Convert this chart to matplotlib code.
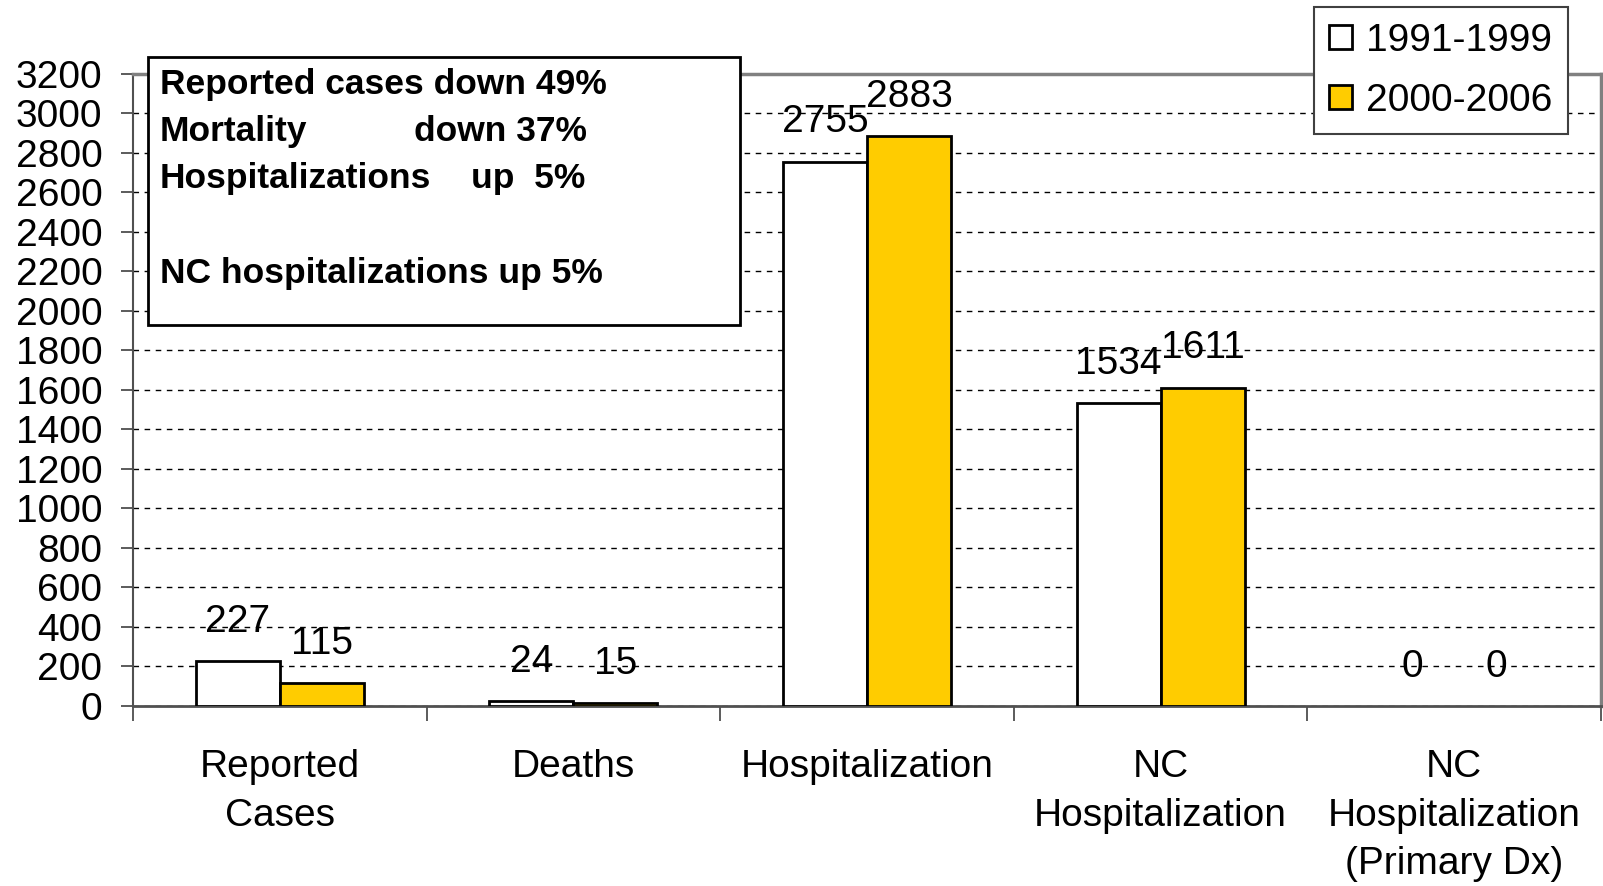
import matplotlib
matplotlib.use("Agg")
import matplotlib.pyplot as plt
from matplotlib.patches import Rectangle, Patch
import numpy as np

plt.rcParams['font.family'] = ['Liberation Sans', 'DejaVu Sans']

categories = ["Reported\nCases", "Deaths", "Hospitalization",
              "NC\nHospitalization", "NC\nHospitalization\n(Primary Dx)"]
series = ["1991-1999", "2000-2006"]
vals_early = [227, 24, 2755, 1534, 0]
vals_late = [115, 15, 2883, 1611, 0]
yticks = list(range(0, 3201, 200))

W, H = 1603, 886


def fx(px):
    return px / W


def fy(py):
    return 1 - py / H


fig = plt.figure(figsize=(W / 100, H / 100), dpi=100)
ax = fig.add_axes([fx(133), fy(706), fx(1601) - fx(133), fy(73.6) - fy(706)])

x = np.arange(len(categories))
bw = 0.286
# zero-height bars are not drawn in the original
ax.bar(x - bw / 2, vals_early, bw, color="white", edgecolor="black",
       lw=[2 if v else 0 for v in vals_early], zorder=3)
ax.bar(x + bw / 2, vals_late, bw, color="#FFCC00", edgecolor="black",
       lw=[2 if v else 0 for v in vals_late], zorder=3)

for xs, vals in [(x - bw / 2, vals_early), (x + bw / 2, vals_late)]:
    for xi, v in zip(xs, vals):
        ax.annotate(str(v), (xi, v), xytext=(0, 21), textcoords="offset points",
                    ha="center", va="baseline", fontsize=28, zorder=4)

ax.set_xlim(-0.5, len(categories) - 0.5)
ax.set_ylim(0, 3200)
ax.set_yticks(yticks)
ax.set_yticklabels([str(t) for t in yticks], fontsize=28)
ax.tick_params(axis="y", direction="out", length=9, width=1.2, pad=13, color="#404040")

ax.set_xticks(x)
ax.set_xticklabels(categories, fontsize=28, linespacing=1.45)
ax.set_xticks(np.arange(-0.5, len(categories)), minor=True)
ax.tick_params(axis="x", which="major", length=0, pad=31)
ax.tick_params(axis="x", which="minor", length=11, width=1.2, color="#404040")

ax.yaxis.grid(True, linestyle=(0, (4, 4)), color="black", lw=1)
ax.set_axisbelow(True)

ax.spines["top"].set_color("#808080")
ax.spines["top"].set_linewidth(2.5)
ax.spines["right"].set_color("#808080")
ax.spines["right"].set_linewidth(2.5)
ax.spines["left"].set_color("#505050")
ax.spines["left"].set_linewidth(1.5)
ax.spines["bottom"].set_color("#505050")
ax.spines["bottom"].set_linewidth(2)

# summary box
fig.add_artist(Rectangle((fx(148), fy(325)), fx(740) - fx(148), fy(57) - fy(325),
                         transform=fig.transFigure, facecolor="white",
                         edgecolor="black", lw=2, zorder=5))
bold = dict(fontsize=25.5, fontweight="bold", va="baseline", ha="left", zorder=6)
fig.text(fx(160), fy(94), "Reported cases down 49%", **bold)
fig.text(fx(160), fy(141), "Mortality", **bold)
fig.text(fx(414), fy(141), "down 37%", **bold)
fig.text(fx(160), fy(188), "Hospitalizations", **bold)
fig.text(fx(471), fy(188), "up  5%", **bold)
fig.text(fx(160), fy(283), "NC hospitalizations up 5%", **bold)

handles = [Patch(facecolor="white", edgecolor="black", lw=2),
           Patch(facecolor="#FFCC00", edgecolor="black", lw=2)]
leg = fig.legend(handles, series, loc="upper right", bbox_to_anchor=(fx(1568), fy(7)),
                 fontsize=28, handlelength=0.6, handleheight=0.6, handletextpad=0.35,
                 labelspacing=0.62, borderpad=0.4, borderaxespad=0,
                 fancybox=False, framealpha=1, edgecolor="#404040")
leg.get_frame().set_linewidth(1.5)
leg.set_zorder(6)

fig.savefig("out.png", dpi=100)
